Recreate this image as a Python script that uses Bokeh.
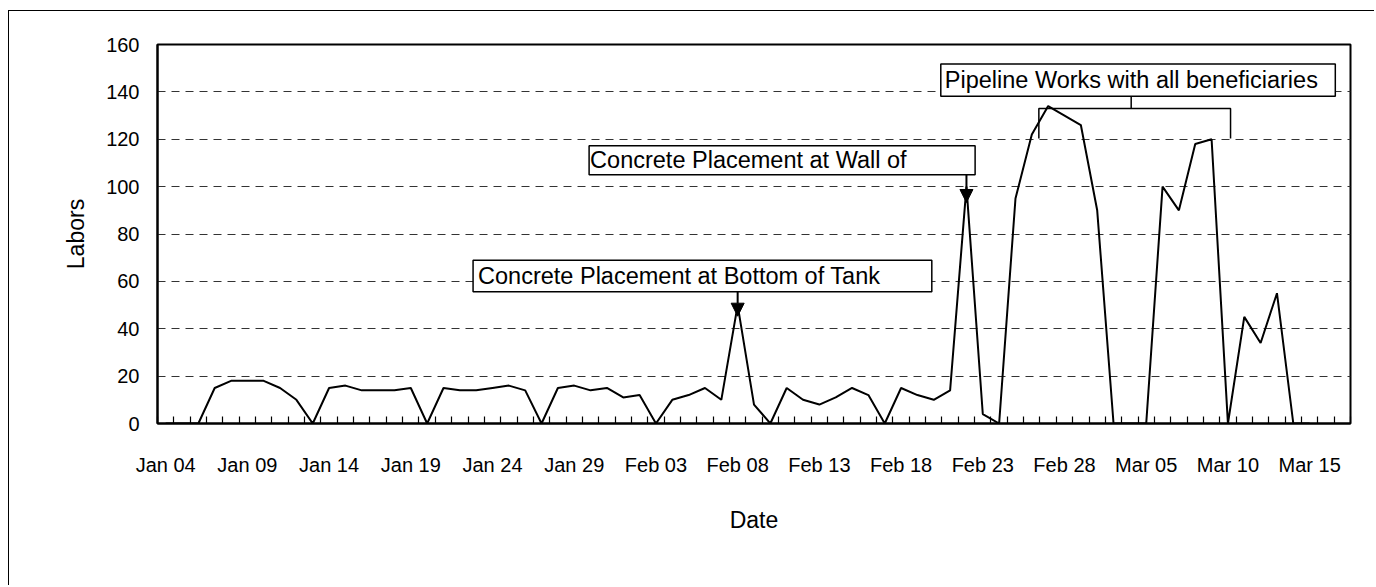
import numpy as np
from bokeh.plotting import figure
from bokeh.models import (Range1d, FixedTicker, Arrow, NormalHead, Label,
                          ColumnDataSource)
from bokeh.embed import file_html
from bokeh.resources import INLINE

# ---------------- data ----------------
n_categories = 73  # daily categories starting Jan 04
tick_labels = ["Jan 04", "Jan 09", "Jan 14", "Jan 19", "Jan 24", "Jan 29",
               "Feb 03", "Feb 08", "Feb 13", "Feb 18", "Feb 23", "Feb 28",
               "Mar 05", "Mar 10", "Mar 15"]
label_every = 5
labors = [0, 0, 0, 15, 18, 18, 18, 15, 10, 0,
          15, 16, 14, 14, 14, 15, 0, 15, 14, 14,
          15, 16, 14, 0, 15, 16, 14, 15, 11, 12,
          0, 10, 12, 15, 10, 50, 8, 0, 15, 10,
          8, 11, 15, 12, 0, 15, 12, 10, 14, 100,
          4, 0, 95, 122, 134, 130, 126, 90, 0, 0,
          0, 100, 90, 118, 120, 0, 45, 34, 55, 0,
          0]
y_ticks = [0, 20, 40, 60, 80, 100, 120, 140, 160]

FONT = "Liberation Sans"

x = np.arange(len(labors)) + 0.5

p = figure(width=1366, height=575, output_backend="svg", toolbar_location=None,
           x_range=Range1d(0, n_categories), y_range=Range1d(0, 160),
           min_border_left=148, min_border_right=25, min_border_top=33,
           min_border_bottom=163)
p.styles = {"border-top": "1.5px solid black", "border-left": "1.5px solid black",
            "margin-top": "10px", "margin-left": "8px"}
p.background_fill_color = "white"
p.border_fill_color = "white"
p.outline_line_color = "black"
p.outline_line_width = 2

# axes
label_pos = [i * label_every + 0.5 for i in range(len(tick_labels))]
p.xaxis.ticker = FixedTicker(ticks=label_pos, minor_ticks=list(range(n_categories + 1)))
p.xaxis.major_label_overrides = {pos: lab for pos, lab in zip(label_pos, tick_labels)}
p.xaxis.major_tick_in = 0
p.xaxis.major_tick_out = 0
p.xaxis.minor_tick_in = 7
p.xaxis.minor_tick_out = 0
p.xaxis.minor_tick_line_color = "black"
p.xaxis.minor_tick_line_width = 1.2
p.xaxis.major_label_standoff = 30
p.xaxis.axis_label = "Date"
p.xaxis.axis_label_standoff = 28

p.yaxis.ticker = FixedTicker(ticks=y_ticks)
p.yaxis.major_tick_in = 0
p.yaxis.major_tick_out = 0
p.yaxis.minor_tick_line_color = None
p.yaxis.major_label_standoff = 18
p.yaxis.axis_label = "Labors"
p.yaxis.axis_label_standoff = 14

for ax in (p.xaxis, p.yaxis):
    ax.axis_line_color = "black"
    ax.axis_line_width = 2
    ax.major_label_text_font = FONT
    ax.major_label_text_font_size = "20px"
    ax.major_label_text_color = "black"
    ax.axis_label_text_font = FONT
    ax.axis_label_text_font_size = "23px"
    ax.axis_label_text_font_style = "normal"
    ax.axis_label_text_color = "black"

p.xgrid.grid_line_color = None
p.ygrid.ticker = FixedTicker(ticks=y_ticks[1:-1])
p.ygrid.grid_line_color = "#333333"
p.ygrid.grid_line_width = 1
p.ygrid.grid_line_dash = "8 6"

# data line
p.line(x, labors, line_color="black", line_width=2)

# ---------------- annotations ----------------
boxes = ColumnDataSource(dict(
    left=[19.31, 26.41, 47.93],
    right=[47.38, 50.03, 72.07],
    top=[68.9, 117.3, 151.8],
    bottom=[55.6, 105.0, 138.2],
))
p.quad(left="left", right="right", top="top", bottom="bottom", source=boxes,
       fill_color="white", line_color="black", line_width=1.5)

texts = ["Concrete Placement at Bottom of Tank", "Concrete Placement at Wall of",
         "Pipeline Works with all beneficiaries"]
x_offs = [5, 1, 4]
for t, l, tp, b, xo in zip(texts, boxes.data["left"], boxes.data["top"],
                            boxes.data["bottom"], x_offs):
    p.add_layout(Label(x=l, y=(tp + b) / 2, x_offset=xo, text=t,
                       text_baseline="middle", text_align="left",
                       text_font=FONT, text_font_size="23.5px", text_color="black"))

# arrows pointing at peaks
for idx, y_start, y_end in [(35, 55.6, 45.3), (49, 105.0, 93.3)]:
    p.add_layout(Arrow(end=NormalHead(size=13, fill_color="black", line_color="black"),
                       x_start=x[idx], y_start=y_start, x_end=x[idx], y_end=y_end,
                       line_color="black", line_width=2))

# bracket for pipeline works
p.line([53.93, 53.93, 65.66, 65.66], [120.3, 133.0, 133.0, 120.3],
       line_color="black", line_width=1.5)
p.line([59.58, 59.58], [138.2, 133.0], line_color="black", line_width=1.5)

open("out.html", "w").write(file_html(p, INLINE))
